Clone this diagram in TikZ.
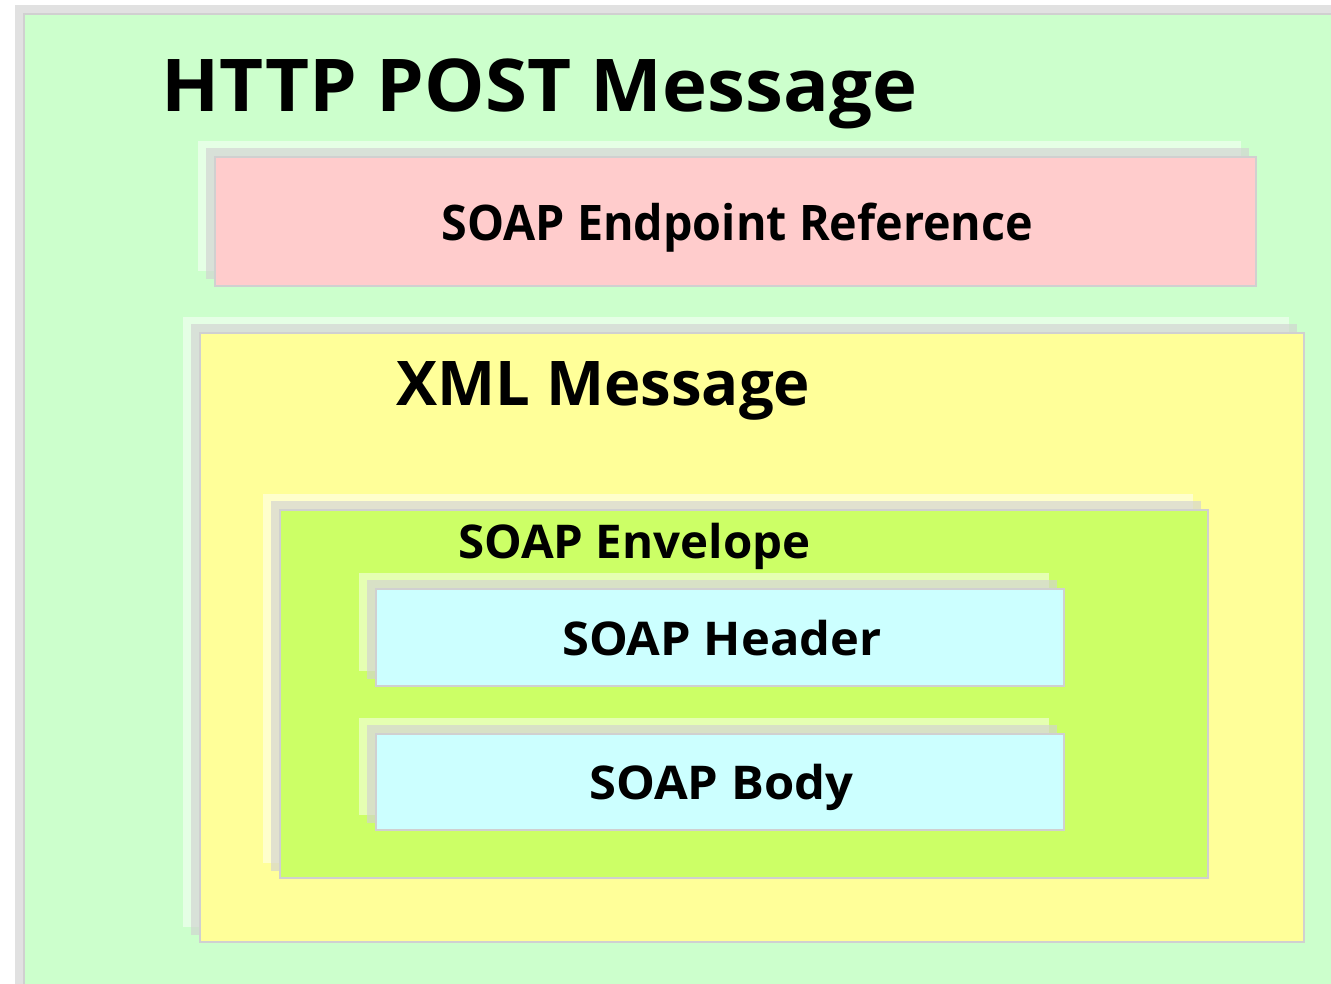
\documentclass[tikz,border=0pt]{standalone}
\usepackage{graphicx}
\usepackage{fontspec}
\setmainfont{Open Sans}
\definecolor{httpgreen}{HTML}{CCFFCC}
\definecolor{eprpink}{HTML}{FFCCCC}
\definecolor{xmlyellow}{HTML}{FFFF99}
\definecolor{envlime}{HTML}{CCFF66}
\definecolor{partcyan}{HTML}{CCFFFF}
\definecolor{boxline}{HTML}{D0D0D0}
\definecolor{shadegray}{HTML}{D2D2D2}
\tikzset{
  frame/.style={draw=boxline, line width=1.6pt},
  litshade/.style={fill=white, fill opacity=0.5},
  darkshade/.style={fill=shadegray, fill opacity=0.65},
  label/.style={inner sep=0pt, anchor=base west, text=black},
}
% a box with two stacked drop shadows offset to the upper left
\newcommand\layeredbox[5]{%
  \fill[litshade] (#1-17,#2-16) rectangle (#3-15,#4-15);
  \fill[darkshade] (#1-9,#2-9) rectangle (#3-7,#4-7);
  \filldraw[frame, fill=#5] (#1,#2) rectangle (#3,#4);
}
% bold caption, widened or narrowed by a horizontal factor
\newcommand\widthfit[2]{\scalebox{#1}[1]{#2}}
\begin{document}
\begin{tikzpicture}[x=1pt, y=-1pt]
  \useasboundingbox (0,0) rectangle (1331,983);
  \fill[white] (0,0) rectangle (1331,983);
  \clip (0,0) rectangle (1331,983);
  % outer HTTP message
  \layeredbox{24}{14}{1360}{1010}{httpgreen}
  \node[label, font=\bfseries\fontsize{72.8}{80}\selectfont] (http) at (161,111.5) {\widthfit{1.046}{HTTP POST Message}};
  % endpoint reference
  \layeredbox{215}{157}{1256}{286}{eprpink}
  \node[label, font=\bfseries\fontsize{49}{56}\selectfont] (epr) at (441.5,240) {\widthfit{0.952}{SOAP Endpoint Reference}};
  % XML message
  \layeredbox{200}{333}{1304}{942}{xmlyellow}
  \node[label, font=\bfseries\fontsize{61.6}{68}\selectfont] (xml) at (396,405) {XML Message};
  % envelope
  \layeredbox{280}{510}{1208}{878}{envlime}
  \node[label, font=\bfseries\fontsize{46.5}{52}\selectfont] (env) at (458,558) {\widthfit{1.02}{SOAP Envelope}};
  % header and body
  \layeredbox{376}{589}{1064}{686}{partcyan}
  \node[label, font=\bfseries\fontsize{46.5}{52}\selectfont] (hdr) at (562,655) {\widthfit{1.05}{SOAP Header}};
  \layeredbox{376}{734}{1064}{830}{partcyan}
  \node[label, font=\bfseries\fontsize{46.5}{52}\selectfont] (body) at (589,799) {\widthfit{1.052}{SOAP Body}};
\end{tikzpicture}
\end{document}
